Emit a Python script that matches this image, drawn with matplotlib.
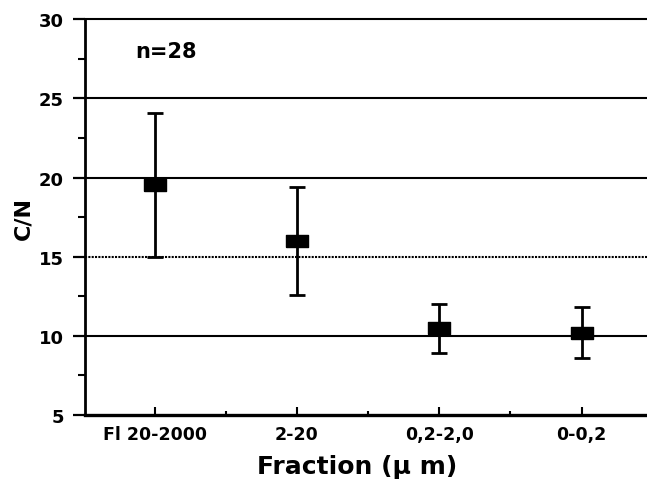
import numpy as np
import matplotlib.pyplot as plt
from matplotlib.ticker import MultipleLocator

# C/N ratio per particle size fraction (mean, upper and lower whisker)
fractions = ['Fl 20-2000', '2-20', '0,2-2,0', '0-0,2']
cn_mean = [19.5, 16.0, 10.5, 10.2]
cn_upper = [24.1, 19.4, 12.0, 11.8]
cn_lower = [15.0, 12.6, 8.9, 8.6]
n_label = 'n=28'

plt.rcParams['font.family'] = ['DejaVu Sans']
plt.rcParams['font.weight'] = 'bold'

fig = plt.figure(figsize=(6.47, 4.81), dpi=100)
ax = fig.add_axes([0.131, 0.135, 0.869, 0.823])

x = np.arange(len(fractions))
mean = np.array(cn_mean)
yerr = [mean - np.array(cn_lower), np.array(cn_upper) - mean]

# horizontal reference lines (30 acts as the top frame line)
for v in [10, 20, 25, 30]:
    ax.axhline(v, color='black', lw=1.5, zorder=1, clip_on=False)
ax.axhline(15, color='black', lw=1.5, ls=(0, (1, 0.6)), zorder=1)

# wide flat box marker
box = [(-1, -0.55), (1, -0.55), (1, 0.55), (-1, 0.55), (-1, -0.55)]
ax.errorbar(x, mean, yerr=yerr, fmt='none', ecolor='black', elinewidth=2.0,
            capsize=6, capthick=2.0, zorder=3)
ax.plot(x, mean, ls='none', marker=box, markersize=16, color='black', zorder=4)

ax.set_xlim(-0.49, 3.46)
ax.set_ylim(5, 30)

ax.set_xticks(x)
ax.set_xticklabels(fractions, fontsize=12.5, fontweight='bold')
ax.xaxis.set_minor_locator(MultipleLocator(0.5))
ax.yaxis.set_major_locator(MultipleLocator(5))
ax.yaxis.set_minor_locator(MultipleLocator(2.5))
ax.tick_params(axis='x', which='major', direction='in', length=6, width=1.5, pad=7)
ax.tick_params(axis='x', which='minor', direction='in', length=3, width=1.5)
ax.tick_params(axis='y', which='major', direction='out', length=9, width=1.6,
               labelsize=13, pad=6)
ax.tick_params(axis='y', which='minor', direction='out', length=5, width=1.5)
for lab in ax.get_yticklabels():
    lab.set_fontweight('bold')

for side in ['top', 'right']:
    ax.spines[side].set_visible(False)
ax.spines['left'].set_linewidth(2.0)
ax.spines['bottom'].set_linewidth(2.4)

ax.set_ylabel('C/N', fontsize=16, fontweight='bold', labelpad=4)
ax.set_xlabel('Fraction (\u03bc m)', fontsize=18, fontweight='bold', labelpad=8)
ax.xaxis.set_label_coords(0.485, -0.098)

ax.text(0.09, 0.92, n_label, transform=ax.transAxes, fontsize=15,
        fontweight='bold', va='center')

fig.savefig('out.png', dpi=100)
